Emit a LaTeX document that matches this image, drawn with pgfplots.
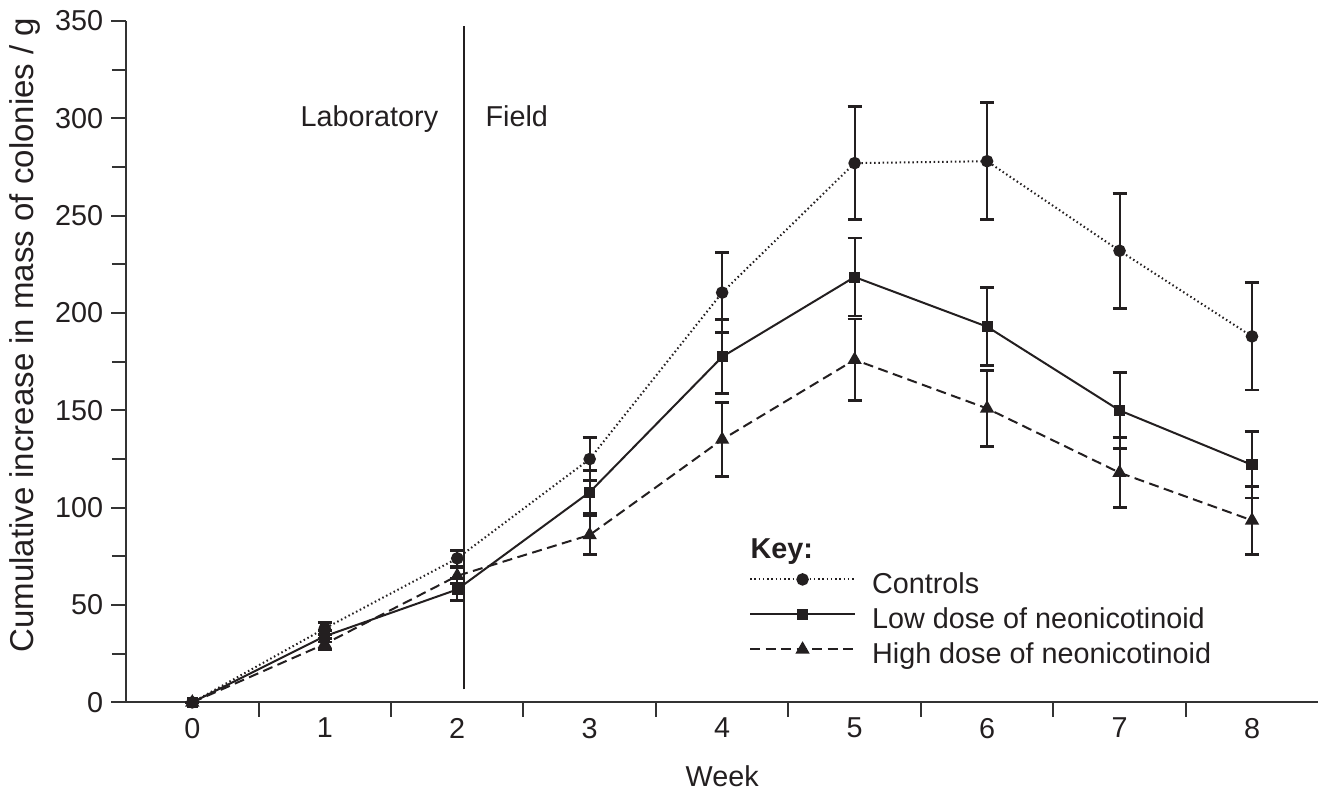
\documentclass[border=0pt]{standalone}
\usepackage{fontspec}
\setmainfont{Liberation Sans}
\usepackage{pgfplots}
\pgfplotsset{compat=1.18}
\usepackage{pgfplotstable}
\definecolor{ink}{HTML}{231F20}
\definecolor{axc}{HTML}{333333}

\pgfplotstableread{
x y e
0 0 0
1 38 3
2 74 4
3 125 11
4 210.5 20.5
5 277 29
6 278 30
7 232 29.5
8 188 27.5
}\controls
\pgfplotstableread{
x y e
0 0 0
1 34 3
2 58 5.5
3 108 11
4 177.5 19
5 218.5 20
6 193 20
7 150 19.5
8 122 17
}\lowdose
\pgfplotstableread{
x y e
0 0 0
1 30 3
2 65 4
3 86 10
4 135 19
5 176 21
6 151 19.5
7 118 18
8 93.5 17.5
}\highdose

\begin{document}
\fontsize{11.5}{13.8}\selectfont
\begin{tikzpicture}
\begin{axis}[
  scale only axis,
  width=476.6pt, height=272.4pt,
  xmin=-0.5, xmax=8.5, ymin=0, ymax=350,
  axis x line*=bottom, axis y line*=left,
  axis line style={axc, line width=0.8pt},
  tick align=outside,
  tick style={axc, line width=0.8pt},
  major tick length=6pt, minor tick length=5.7pt,
  xtick={0,...,8},
  major x tick style={draw=none},
  minor xtick={0.5,1.5,...,7.5},
  ytick={0,50,...,350},
  minor ytick={25,75,...,325},
  /pgf/number format/assume math mode=true,
  xticklabel style={inner sep=0pt, anchor=north, text=ink},
  yticklabel style={inner sep=0pt, anchor=east, xshift=-3pt, text=ink},
  xlabel={Week},
  ylabel={Cumulative increase in mass of colonies / g},
  xlabel style={at={(axis description cs:0.5,0)}, anchor=north, inner sep=0pt, yshift=-25.2pt, text=ink},
  ylabel style={at={(axis description cs:-0.098,0.539)}, anchor=north, rotate=0, inner sep=0pt, text=ink, font=\fontsize{13.2}{15}\selectfont},
  legend style={at={(axis cs:4.203,66.9)}, anchor=north west, draw=none, fill=none,
    inner sep=0pt, outer sep=0pt, row sep=3pt, column sep=6.4pt,
    nodes={inner sep=0pt, text height=8.5pt, text depth=2.5pt, text=ink}},
  legend cell align=left,
  legend image code/.code={\draw[mark repeat=2,mark phase=2,#1] plot coordinates {(0pt,2.6pt) (21pt,2.6pt) (42pt,2.6pt)};},
  clip=false,
]
\addlegendimage{ink, line width=0.8pt, dash pattern=on 0.6pt off 1.1pt, mark=*, mark size=2.1pt, mark options={solid}}
\addlegendentry{Controls}
\addlegendimage{ink, line width=0.8pt, mark=square*, mark size=1.8pt, mark options={solid}}
\addlegendentry{Low dose of neonicotinoid}
\addlegendimage{ink, line width=0.8pt, dash pattern=on 4pt off 2.2pt, mark=triangle*, mark size=2.5pt, mark options={solid}}
\addlegendentry{High dose of neonicotinoid}

\addplot[forget plot, ink, line width=0.8pt, dash pattern=on 0.6pt off 1.1pt, mark=*, mark size=2.1pt, mark options={solid},
  error bars/.cd, y dir=both, y explicit, error bar style={solid, line width=0.8pt, ink},
  error mark options={solid, line width=1.1pt, mark size=2.8pt, ink, rotate=90}]
  table[x=x, y=y, y error=e] {\controls};
\addplot[forget plot, ink, line width=0.8pt, dash pattern=on 4pt off 2.2pt, mark=triangle*, mark size=2.5pt, mark options={solid},
  error bars/.cd, y dir=both, y explicit, error bar style={solid, line width=0.8pt, ink},
  error mark options={solid, line width=1.1pt, mark size=2.8pt, ink, rotate=90}]
  table[x=x, y=y, y error=e] {\highdose};
\addplot[forget plot, ink, line width=0.8pt, mark=square*, mark size=1.8pt, mark options={solid},
  error bars/.cd, y dir=both, y explicit, error bar style={solid, line width=0.8pt, ink},
  error mark options={solid, line width=1.1pt, mark size=2.8pt, ink, rotate=90}]
  table[x=x, y=y, y error=e] {\lowdose};

\draw[ink, line width=0.8pt] (axis cs:2.05,6.7) -- (axis cs:2.05,347.5);
\node[anchor=base east, inner sep=0pt, text=ink] at (axis cs:1.86,296) {Laboratory};
\node[anchor=base west, inner sep=0pt, text=ink] at (axis cs:2.21,296) {Field};
\node[anchor=base west, inner sep=0pt, text=ink, font=\bfseries] at (axis cs:4.211,74) {Key:};
\end{axis}
\pgfresetboundingbox
\path (-50.4pt,-35.6pt) rectangle (481.3pt,280.8pt);
\end{tikzpicture}
\end{document}
